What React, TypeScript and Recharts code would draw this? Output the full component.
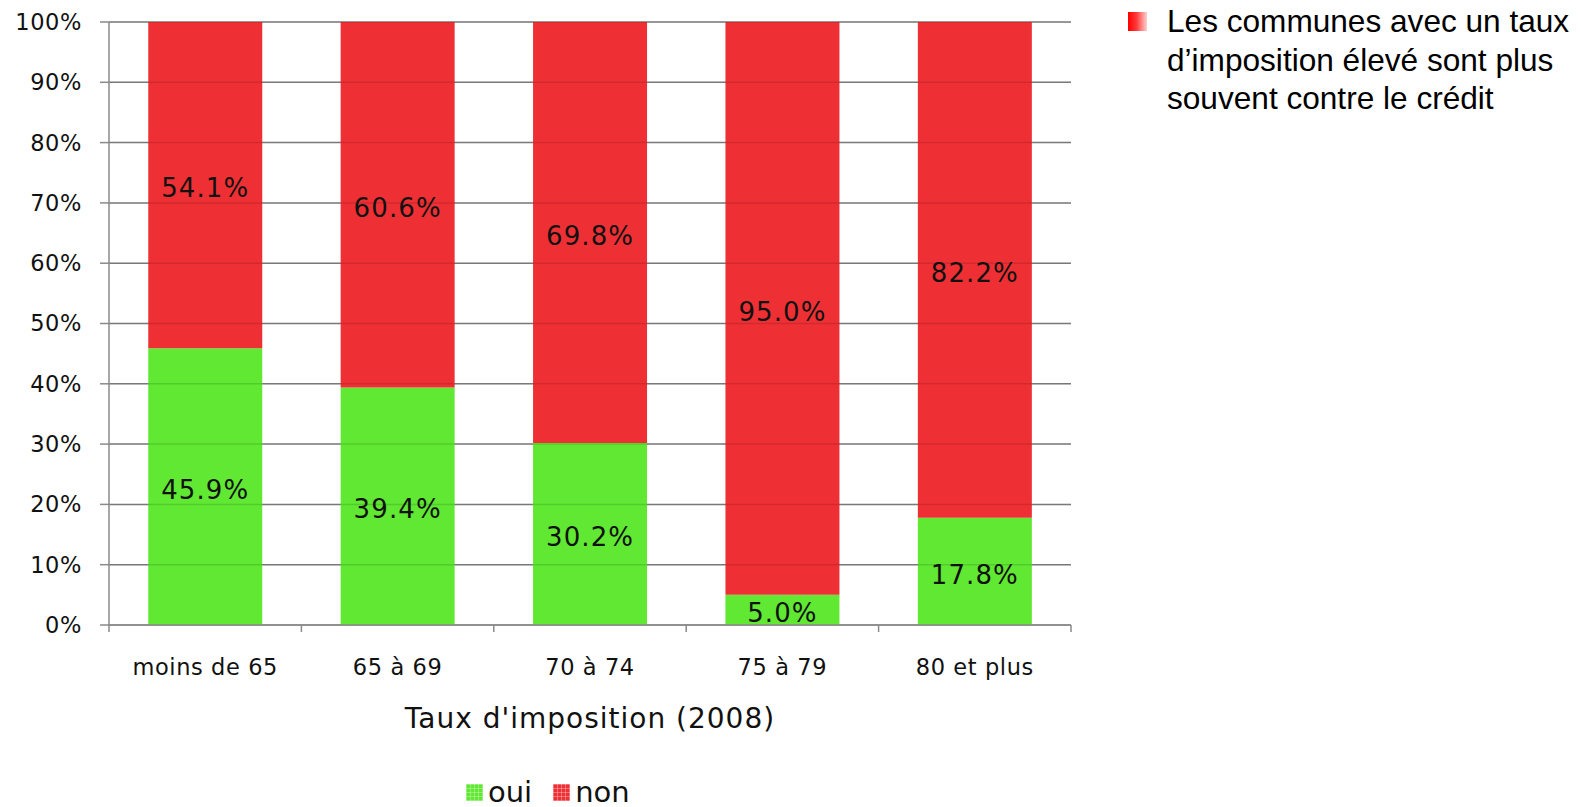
import React from 'react';
import { BarChart, Bar, XAxis, YAxis, CartesianGrid, ReferenceLine, LabelList, Label, Legend } from 'recharts';

const categories = ['moins de 65', '65 à 69', '70 à 74', '75 à 79', '80 et plus'];
const ouiValues = [45.9, 39.4, 30.2, 5.0, 17.8];
const nonValues = [54.1, 60.6, 69.8, 95.0, 82.2];
const yTicks = [0, 10, 20, 30, 40, 50, 60, 70, 80, 90, 100];

const data = categories.map((cat, i) => ({
    cat,
    oui: ouiValues[i],
    non: nonValues[i]
}));

const W = 1581;
const H = 807;
const MARGIN = { top: 22, right: 510, left: 0, bottom: 72 };
const Y_WIDTH = 109;
const BAND = (W - MARGIN.left - MARGIN.right - Y_WIDTH) / categories.length;

const GREEN = '#60e833';
const RED = '#ee3035';
const AXIS = '#8a8a8a';
const FONT = '"DejaVu Sans", Verdana, sans-serif';

// tick label + boundary tick marks (ticks sit between categories)
const CategoryTick = (props: any) => {
    const { x, y, payload, index } = props;
    const axisY = y - 7 - 27;
    const half = BAND / 2;
    return (
        <g>
            <line x1={x - half} y1={axisY} x2={x - half} y2={axisY + 7} stroke={AXIS} strokeWidth={1.5} />
            {index === categories.length - 1 && (
                <line x1={x + half} y1={axisY} x2={x + half} y2={axisY + 7} stroke={AXIS} strokeWidth={1.5} />
            )}
            <text
                x={x}
                y={y}
                dy="0.71em"
                textAnchor="middle"
                fontSize={22.5}
                letterSpacing={0.6}
                fill="#111"
                fontFamily={FONT}
            >
                {payload.value}
            </text>
        </g>
    );
};

const swatch = (color: string) => ({
    display: 'inline-block',
    width: 17,
    height: 17,
    backgroundColor: color,
    backgroundImage:
        'repeating-linear-gradient(0deg, rgba(255,255,255,0.3) 0 1px, transparent 1px 4px), repeating-linear-gradient(90deg, rgba(255,255,255,0.3) 0 1px, transparent 1px 4px)'
});

const LegendContent = (props: any) => {
    const items = [...(props.payload || [])].sort((a: any, b: any) => (a.value === 'oui' ? -1 : 1));
    return (
        <div style={{ display: 'flex', alignItems: 'center', fontFamily: FONT, fontSize: 29, color: '#111' }}>
            {items.map((item: any) => (
                <div key={item.value} style={{ display: 'flex', alignItems: 'center', marginRight: 21 }}>
                    <span style={swatch(item.color)} />
                    <span style={{ marginLeft: 5 }}>{item.value}</span>
                </div>
            ))}
        </div>
    );
};

export default function App() {
    return (
        <div style={{ position: 'absolute', left: 0, top: 0, width: W, height: H, background: '#fff' }}>
            <BarChart width={W} height={H} data={data} margin={MARGIN} barCategoryGap="20.4%">
                <CartesianGrid vertical={false} stroke={AXIS} strokeWidth={1.5} />
                <YAxis
                    width={Y_WIDTH}
                    domain={[0, 100]}
                    ticks={yTicks}
                    interval={0}
                    tickFormatter={(v: number) => `${v}%`}
                    axisLine={{ stroke: AXIS, strokeWidth: 1.5 }}
                    tickLine={{ stroke: AXIS, strokeWidth: 1.5 }}
                    tickSize={9}
                    tickMargin={18}
                    tick={{ fontSize: 22.5, fill: '#111', fontFamily: FONT, letterSpacing: 0.6 }}
                />
                <XAxis
                    dataKey="cat"
                    height={110}
                    interval={0}
                    tickLine={false}
                    tickSize={7}
                    tickMargin={27}
                    axisLine={{ stroke: AXIS, strokeWidth: 1.5 }}
                    tick={<CategoryTick />}
                >
                    <Label
                        value="Taux d'imposition (2008)"
                        position="insideBottom"
                        offset={7}
                        fontSize={28}
                        letterSpacing={1}
                        fill="#111"
                        fontFamily={FONT}
                    />
                </XAxis>
                <Legend
                    layout="horizontal"
                    verticalAlign="middle"
                    align="center"
                    content={<LegendContent />}
                    wrapperStyle={{ left: 466, top: 775, width: 300 }}
                />
                <Bar dataKey="oui" name="oui" stackId="a" fill={GREEN} isAnimationActive={false}>
                    <LabelList
                        dataKey="oui"
                        position="center"
                        formatter={(v: any) => `${Number(v).toFixed(1)}%`}
                        fontSize={26}
                        letterSpacing={1.1}
                        dy={3}
                        fill="#111"
                        fontFamily={FONT}
                    />
                </Bar>
                <Bar dataKey="non" name="non" stackId="a" fill={RED} isAnimationActive={false}>
                    <LabelList
                        dataKey="non"
                        position="center"
                        formatter={(v: any) => `${Number(v).toFixed(1)}%`}
                        fontSize={26}
                        letterSpacing={1.1}
                        dy={3}
                        fill="#111"
                        fontFamily={FONT}
                    />
                </Bar>
                {yTicks.slice(1).map((t) => (
                    <ReferenceLine key={t} y={t} stroke="#000" strokeOpacity={0.12} strokeWidth={1.5} />
                ))}
            </BarChart>

            {/* side note */}
            <div
                style={{
                    position: 'absolute',
                    left: 1128,
                    top: 12,
                    width: 19,
                    height: 19,
                    background: 'linear-gradient(90deg, #ff0000 0%, #ff3a3a 45%, #ffd0d0 100%)'
                }}
            />
            <div
                style={{
                    position: 'absolute',
                    left: 1167,
                    top: 2,
                    width: 420,
                    fontFamily: '"Liberation Sans", Arial, sans-serif',
                    fontSize: 31.6,
                    lineHeight: '38.5px',
                    color: '#000'
                }}
            >
                Les communes avec un taux
                <br />
                d’imposition élevé sont plus
                <br />
                souvent contre le crédit
            </div>
        </div>
    );
}
